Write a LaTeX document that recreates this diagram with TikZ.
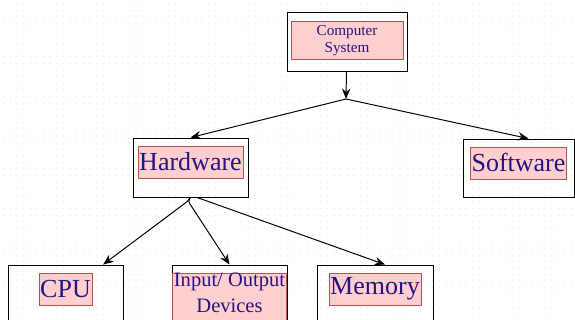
\documentclass[tikz,border=0pt]{standalone}
\usepackage{fontspec}
\setmainfont{Liberation Serif}
\usetikzlibrary{positioning,arrows.meta}

\definecolor{lblfill}{RGB}{255,206,206}
\definecolor{lbledge}{RGB}{184,84,80}
\definecolor{lbltext}{RGB}{36,22,128}
\definecolor{griddot}{RGB}{226,226,226}

\begin{document}
\begin{tikzpicture}[x=0.025cm, y=-0.025cm,
  box/.style={draw, line width=0.6pt, minimum height=14.75mm, inner sep=0cm},
  lbl/.style={draw=lbledge, fill=lblfill, text=lbltext, inner xsep=0.3mm,
    inner ysep=0cm, minimum height=8mm, font=\fontsize{18.5}{22}\selectfont},
  link/.style={-{Stealth[length=2.6mm,width=2.1mm]}, line width=0.7pt}]
\useasboundingbox (0,0) rectangle (575,320);
\clip (0,0) rectangle (575,320);

% grid of the drawing sheet
\foreach \gx in {4,10.6,...,575} {
  \foreach \gy in {4,10.6,...,320} {
    \fill[griddot] (\gx,\gy) circle (0.15mm);
  }
}

\node[box, minimum width=30mm] at (347,41.5) (cs) {};
\node[lbl, below=2mm of cs.north, minimum width=28mm, minimum height=9.5mm,
  align=center, font=\fontsize{10.8}{12}\selectfont, yshift=-0.4mm] (csl) {Computer\\System};

\node[box, minimum width=28.75mm] at (190.5,167.5) (hw) {};
\node[lbl, below=2mm of hw.north] (hwl) {Hardware};
\node[box, minimum width=27.75mm, minimum height=14.5mm] at (518.5,168) (sw) {};
\node[lbl, below=2mm of sw.north] (swl) {Software};

\node[box, minimum width=28.75mm] at (65.5,294.5) (cpu) {};
\node[lbl, below=2mm of cpu.north] (cpul) {CPU};
\node[box, minimum width=28.75mm] at (229.5,294.5) (io) {};
\node[lbl, below=2mm of io.north, minimum width=28.25mm, minimum height=0mm,
  align=center, text depth=6.5mm, font=\fontsize{14.6}{18.5}\selectfont] (iol) {Input/ Output\\Devices};
\node[box, minimum width=29mm] at (375,294.5) (mem) {};
\node[lbl, below=2mm of mem.north] (meml) {Memory};

\coordinate (j1) at (346,99);
\coordinate (j2) at (188,201);

\draw[link] (cs) -- (j1);
\draw[link] (j1) -- (hw.north);
\draw[link] (j1) -- ([xshift=2.5mm]sw.north);

\draw[link, rounded corners=2pt] (hw.south) -- (j2) -- ([xshift=9.4mm]cpu.north);
\draw[link, rounded corners=2pt] (hw.south) -- (j2) -- (io.north);
\draw[link] ([xshift=1.6mm]hw.south) -- ([xshift=2.5mm]mem.north);

\end{tikzpicture}
\end{document}
